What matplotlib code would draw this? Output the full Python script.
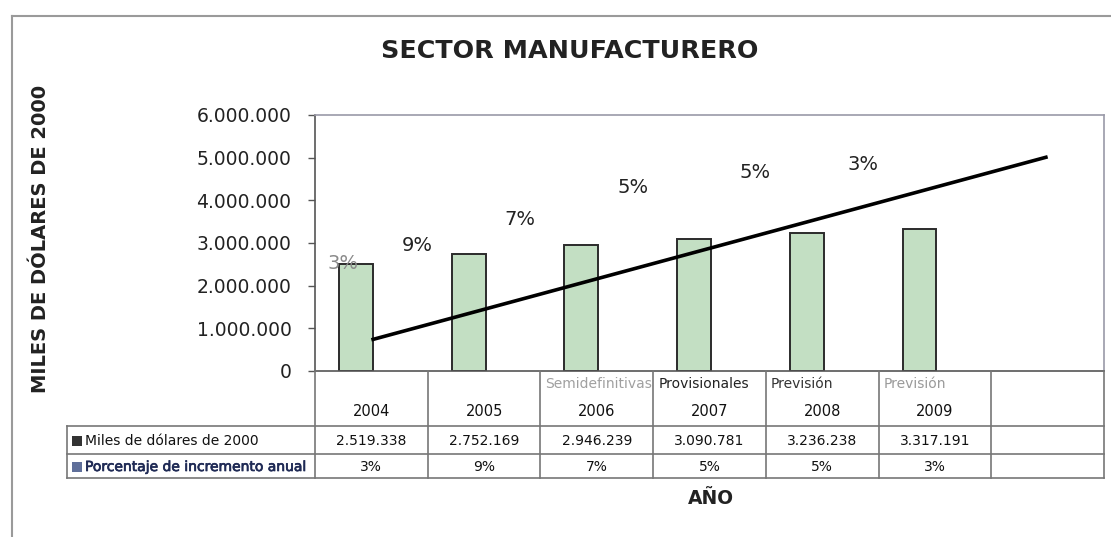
import matplotlib
matplotlib.use("Agg")
import matplotlib.pyplot as plt
from matplotlib.lines import Line2D
from matplotlib.patches import Rectangle
import matplotlib.patheffects as pe
import numpy as np

plt.rcParams['font.family'] = ['DejaVu Sans']

# ---- data -------------------------------------------------------------
years = ["2004", "2005", "2006", "2007", "2008", "2009"]
status = ["", "", "Semidefinitivas", "Provisionales", "Previsión", "Previsión"]
status_colors = ["#000000", "#000000", "#a0a0a0", "#222222", "#333333", "#9a9a9a"]
miles_usd = [2519338, 2752169, 2946239, 3090781, 3236238, 3317191]
pct_increase = [3, 9, 7, 5, 5, 3]
trend_values = [730000, 5020000]          # trend line at first and last slot
y_ticks = [0, 1000000, 2000000, 3000000, 4000000, 5000000, 6000000]
series_names = ["Miles de dólares de 2000", "Porcentaje de incremento anual"]

# ---- layout -----------------------------------------------------------
W, H = 1111, 537
n_slots = 7
pct_label_x = [-0.25, 0.41, 1.32, 2.32, 3.40, 4.36]
pct_label_y = [2.51e6, 2.93e6, 3.56e6, 4.29e6, 4.66e6, 4.85e6]
pct_label_colors = ["#8a8a8a", "#222222", "#222222", "#222222", "#222222", "#222222"]


def fx(px):
    return px / W


def fy(py):
    return 1 - py / H


def fmt(v):
    return f"{int(v):,}".replace(",", ".")


fig = plt.figure(figsize=(W / 100, H / 100), dpi=100)
fig.patch.set_facecolor("white")

# outer chart frame
frame_kw = dict(color="#9a9a9a", lw=1.5, transform=fig.transFigure)
fig.add_artist(Line2D([fx(12), fx(12)], [fy(16), fy(H + 5)], **frame_kw))
fig.add_artist(Line2D([fx(12), fx(W + 5)], [fy(16), fy(16)], **frame_kw))

# plot area
left, right, top, bottom = 315, 1104, 115, 371
ax = fig.add_axes([fx(left), fy(bottom), fx(right) - fx(left), fy(top) - fy(bottom)])
ax.set_xlim(-0.5, n_slots - 0.5)
ax.set_ylim(y_ticks[0], y_ticks[-1])

x = np.arange(len(years))
ax.bar(x - 0.137, miles_usd, width=0.30, color="#c3dfc3",
       edgecolor="#2b2b2b", linewidth=1.4, zorder=2)
ax.plot([0, n_slots - 1], trend_values, color="black", lw=2.6,
        solid_capstyle="butt", zorder=3)

for xi, yi, p, c in zip(pct_label_x, pct_label_y, pct_increase, pct_label_colors):
    ax.text(xi, yi, f"{p}%", ha="center", va="center", fontsize=14, color=c, zorder=4)

ax.set_yticks(y_ticks)
ax.set_yticklabels([fmt(v) for v in y_ticks], fontsize=13.5, color="#222222")
ax.tick_params(axis="y", length=5, width=1, color="#555555", pad=12)
ax.set_xticks([])
for side in ("top", "right"):
    ax.spines[side].set_color("#9a9aa8")
    ax.spines[side].set_linewidth(1.2)
ax.spines["left"].set_color("#555555")
ax.spines["left"].set_linewidth(1.2)
ax.spines["bottom"].set_color("#555555")
ax.spines["bottom"].set_linewidth(1.2)

# ---- data table under the axis ---------------------------------------
fig.canvas.draw()
col_edges = [ax.transData.transform((i - 0.5, 0))[0] for i in range(n_slots + 1)]
col_mid = [(col_edges[i] + col_edges[i + 1]) / 2 for i in range(n_slots)]
label_left = 67
row_edges = [371, 426, 454, 478]
grid_kw = dict(color="#777777", lw=1.2, transform=fig.transFigure)

for ex in col_edges:
    fig.add_artist(Line2D([fx(ex), fx(ex)], [fy(row_edges[0]), fy(row_edges[-1])], **grid_kw))
fig.add_artist(Line2D([fx(label_left), fx(label_left)], [fy(row_edges[1]), fy(row_edges[-1])], **grid_kw))
for ry in row_edges[1:]:
    fig.add_artist(Line2D([fx(label_left), fx(col_edges[-1])], [fy(ry), fy(ry)], **grid_kw))

for i, yr in enumerate(years):
    fig.text(fx(col_mid[i]), fy(412), yr, ha="center", va="center", fontsize=10.5, color="#111111")
    if status[i]:
        fig.text(fx(col_edges[i] + 5), fy(384), status[i], ha="left", va="center",
                 fontsize=10, color=status_colors[i])
    fig.text(fx(col_mid[i]), fy(441), fmt(miles_usd[i]), ha="center", va="center",
             fontsize=10, color="#111111")
    fig.text(fx(col_mid[i]), fy(467), f"{pct_increase[i]}%", ha="center", va="center",
             fontsize=10, color="#111111")

# series names with legend keys
key_colors = ["#333333", "#5f6f9a"]
name_colors = ["#111111", "#1f2a55"]
for k, (name, ky) in enumerate(zip(series_names, [441, 467])):
    fig.add_artist(Rectangle((fx(72), fy(ky + 5)), fx(10), 10 / H, transform=fig.transFigure,
                             facecolor=key_colors[k], edgecolor="none"))
    t = fig.text(fx(85), fy(ky), name, ha="left", va="center", fontsize=10, color=name_colors[k])
    if k == 1:
        t.set_path_effects([pe.withStroke(linewidth=0.5, foreground=name_colors[k])])

# titles
fig.text(fx(570), fy(51), "SECTOR MANUFACTURERO", ha="center", va="center",
         fontsize=18.3, fontweight="bold", color="#222222")
fig.text(fx(41), fy(239), "MILES DE DÓLARES DE 2000", ha="center", va="center",
         rotation=90, fontsize=14, fontweight="bold", color="#222222")
fig.text(fx(711), fy(499), "AÑO", ha="center", va="center",
         fontsize=13.5, fontweight="bold", color="#222222")

fig.savefig("out.png", dpi=100)
